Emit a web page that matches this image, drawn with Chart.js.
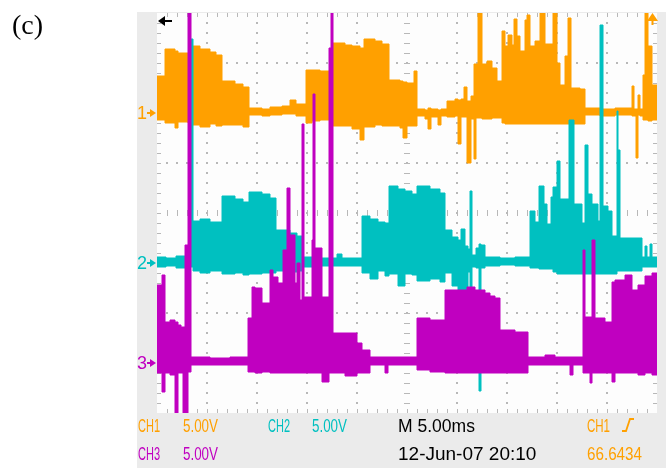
<!DOCTYPE html>
<html>
<head>
<meta charset="utf-8">
<title>Oscilloscope capture (c)</title>
<script src="https://cdn.jsdelivr.net/npm/chart.js@4/dist/chart.umd.min.js"></script>
<style>
  html, body { margin: 0; padding: 0; background: #ffffff; }
  #wrap { position: relative; width: 666px; height: 468px; }
  canvas { display: block; }
</style>
</head>
<body>
<div id="wrap"><canvas id="scope" width="666" height="468"></canvas></div>
<script>
// ---- Captured envelopes: time in ms, each level holds until the next time ----
// Channel 1 (volts relative to its ground marker)
const ch1Time = [0, 0.8, 1.8, 2.1, 3.1, 3.5, 4.3, 5.3, 5.9, 6.5,
  7.8, 8.6, 9.2, 10.5, 11.3, 12.5, 13.3, 13.9, 14.9, 15.5,
  16.3, 17.6, 18.8, 19.5, 20.3, 20.7, 21.8, 22.5, 23.2, 24.3,
  24.6, 25.0, 25.7, 26.0, 26.8, 27.1, 27.4, 28.1, 28.4, 29.0,
  29.8, 30.1, 30.4, 30.7, 31.0, 31.4, 31.7, 31.9, 32.1, 32.5,
  33.0, 33.5, 34.0, 34.5, 34.8, 35.1, 35.5, 35.7, 36.0, 36.3,
  36.8, 37.0, 37.3, 37.8, 38.3, 38.8, 39.6, 40.0, 40.3, 40.8,
  41.1, 41.4, 42.3, 42.8, 44.3, 45.8, 47.5, 47.7, 47.9, 48.1,
  48.3, 48.6, 48.8, 49.1, 49.5];
const ch1Max = [3.7, 6.4, 6.2, 6.0, 5.7, 6.7, 6.4, 6.1, 5.8, 3.2,
  2.9, 2.6, 0.5, 0.4, 0.6, 0.7, 1.3, 0.9, 4.3, 4.3,
  4.2, 7.0, 6.8, 6.7, 6.5, 7.4, 7.2, 6.9, 3.3, 3.2,
  3.1, 3.0, 4.2, 0.4, 0.3, 0.5, 0.4, 0.3, 0.4, 1.2,
  1.4, 1.3, 1.4, 2.6, 1.2, 1.7, 4.9, 4.9, 10.0, 4.9,
  5.2, 4.5, 3.2, 8.2, 6.7, 7.8, 6.8, 9.4, 7.7, 6.2,
  9.3, 9.8, 6.7, 7.2, 10.0, 6.9, 10.0, 5.0, 2.8, 5.7,
  9.5, 2.5, 2.4, 0.5, 0.4, 0.5, 2.7, 0.4, 0.4, 1.8,
  0.4, 3.8, 10.0, 6.7, 2.8];
const ch1Min = [-0.7, -1.0, -1.5, -0.9, -1.0, -1.2, -1.4, -1.1, -1.3, -1.2,
  -1.2, -1.4, -0.2, -0.3, -0.2, -0.1, -0.1, -0.3, -1.0, -0.8,
  -0.7, -1.3, -1.3, -1.6, -2.7, -1.4, -1.2, -1.3, -1.3, -1.5,
  -2.5, -1.3, -1.3, -0.3, -0.6, -1.6, -0.4, -1.2, -0.3, -0.4,
  -0.3, -3.1, -0.4, -0.4, -5.0, -0.6, -4.6, -0.5, -0.5, -0.6,
  -0.6, -0.5, -0.5, -1.0, -1.1, -1.1, -1.1, -1.1, -1.1, -1.1,
  -1.1, -1.1, -1.1, -1.1, -1.1, -1.1, -1.1, -1.1, -1.1, -1.1,
  -1.1, -1.1, -1.1, -0.2, -0.3, -0.2, -0.3, -0.3, -4.5, -0.2,
  -0.3, -0.7, -0.7, -0.8, -0.7];

// Channel 2
const ch2Time = [0, 0.9, 1.9, 2.9, 3.4, 3.6, 4.3, 5.3, 6.5, 7.8,
  8.6, 9.2, 10.5, 11.3, 11.9, 13.3, 14.0, 14.6, 15.8, 18.0,
  18.5, 20.5, 21.3, 22.1, 22.8, 23.2, 24.1, 24.8, 25.5, 26.0,
  27.3, 28.3, 28.8, 29.5, 30.1, 30.4, 30.8, 31.1, 31.3, 31.5,
  31.9, 32.2, 32.4, 32.8, 34.3, 35.8, 37.3, 37.8, 38.2, 38.7,
  39.0, 39.4, 39.6, 40.0, 40.3, 41.2, 41.7, 42.5, 42.8, 43.1,
  43.5, 44.1, 44.3, 44.6, 45.1, 45.5, 46.0, 46.1, 46.3, 48.5,
  48.8, 49.0, 49.3, 49.5];
const ch2Max = [0.6, 0.5, 0.7, 0.5, 22.4, 4.2, 4.4, 4.1, 6.7, 6.4,
  6.1, 7.1, 6.9, 6.5, 3.3, 3.0, 2.7, 0.6, 0.5, 0.9,
  0.5, 4.7, 4.4, 4.1, 4.0, 7.7, 7.4, 7.2, 6.9, 7.7,
  7.4, 7.0, 3.3, 2.6, 2.3, 3.4, 1.7, 1.4, 7.2, 0.8,
  1.5, 1.9, 1.8, 0.6, 0.5, 0.6, 5.2, 4.1, 7.7, 5.9,
  3.9, 6.6, 7.6, 10.2, 6.4, 14.3, 5.9, 4.0, 11.8, 6.9,
  5.9, 4.2, 23.8, 5.7, 5.2, 2.7, 15.2, 11.3, 2.5, 0.6,
  1.7, 0.6, 1.9, 0.6];
const ch2Min = [-0.4, -0.3, -0.5, -0.3, -0.4, -0.8, -1.0, -0.8, -1.1, -1.0,
  -1.2, -1.1, -1.0, -1.0, -0.8, -0.9, -0.8, -0.4, -0.3, -0.3,
  -0.3, -1.0, -1.6, -0.8, -1.3, -1.1, -2.3, -1.1, -1.2, -1.8,
  -1.6, -1.9, -1.0, -2.3, -3.5, -3.6, -3.6, -0.9, -3.4, -0.4,
  -0.5, -12.8, -0.5, -0.3, -0.2, -0.3, -0.5, -0.5, -0.6, -0.6,
  -0.6, -0.6, -0.9, -1.1, -1.1, -1.1, -1.1, -1.1, -1.1, -1.1,
  -1.1, -1.1, -1.1, -1.1, -1.1, -1.1, -0.8, -0.8, -0.8, -0.4,
  -0.4, -0.4, -0.4, -0.4];

// Channel 3
const ch3Time = [0, 0.5, 0.8, 1.3, 1.8, 2.1, 2.4, 2.6, 2.8, 3.1,
  3.4, 5.3, 7.3, 9.1, 9.5, 9.8, 10.5, 11.3, 11.6, 12.1,
  12.6, 13.0, 13.3, 13.8, 14.0, 14.3, 14.5, 14.7, 15.5, 15.6,
  15.8, 16.5, 17.2, 17.4, 17.6, 18.8, 20.0, 20.5, 21.3, 22.8,
  23.1, 26.0, 27.3, 28.8, 30.3, 31.0, 31.8, 32.8, 33.3, 33.8,
  34.3, 35.8, 37.1, 38.8, 39.8, 41.3, 41.6, 42.6, 42.8, 43.3,
  43.5, 43.8, 44.8, 45.5, 45.8, 46.8, 47.5, 48.1, 48.8, 49.5];
const ch3Max = [7.8, 8.8, 4.1, 4.3, 4.1, 3.8, 3.6, 3.6, 11.8, 35.0,
  0.6, 0.5, 0.6, 4.5, 7.6, 7.5, 6.0, 9.3, 8.6, 8.0,
  11.3, 17.5, 12.8, 8.0, 10.0, 6.3, 23.9, 6.6, 12.3, 26.9,
  11.5, 6.6, 31.5, 35.0, 3.0, 3.0, 2.0, 1.3, 0.6, 0.6,
  0.6, 4.5, 4.3, 7.3, 7.3, 7.6, 7.3, 7.0, 6.7, 6.5,
  3.3, 3.1, 0.6, 0.8, 0.6, 0.6, 0.6, 11.3, 4.6, 4.6,
  12.3, 4.5, 4.1, 8.1, 8.3, 8.8, 7.3, 7.8, 8.7, 9.0];
const ch3Min = [-1.0, -2.9, -1.0, -1.2, -5.2, -1.0, -1.0, -5.2, -5.2, -0.9,
  -0.2, -0.2, -0.2, -0.9, -0.9, -1.0, -0.9, -1.0, -1.0, -1.0,
  -1.0, -1.0, -1.0, -1.0, -1.0, -1.0, -1.0, -1.0, -1.0, -1.0,
  -1.0, -1.9, -1.0, -1.0, -1.0, -1.3, -1.0, -1.0, -0.2, -1.0,
  -0.2, -0.7, -0.9, -1.0, -1.0, -1.0, -1.0, -1.0, -1.0, -1.0,
  -1.0, -1.0, -0.2, -0.2, -0.2, -1.2, -0.2, -1.0, -1.0, -2.0,
  -1.0, -1.0, -1.0, -1.9, -1.0, -1.0, -1.0, -1.2, -1.0, -1.2];

// ---- Front-panel settings and readouts ----
const channelLabels = ['CH1', 'CH2', 'CH3'];
const voltsPerDiv = [5, 5, 5];
const groundDiv = [6, 3, 1];          // ground marker position, in divisions from the bottom
const scaleLabels = ['5.00V', '5.00V', '5.00V'];
const timePerDiv = 5;                 // ms
const timebaseLabel = 'M 5.00ms';
const dateLabel = '12-Jun-07 20:10';
const triggerSource = 'CH1';
const triggerReadout = '66.6434';
const panelLabel = '(c)';

const colors = ['#ffa000', '#00c0c0', '#c000c0'];
const divsX = 10, divsY = 8;

// ---- Build datasets: an upper and a lower stepped trace per channel, filled between ----
const series = [
  [ch1Time, ch1Max, ch1Min],
  [ch2Time, ch2Max, ch2Min],
  [ch3Time, ch3Max, ch3Min]
];
const endTime = divsX * timePerDiv;

function tracePoints(times, values, ch) {
  const pts = times.map((t, i) => ({ x: t, y: groundDiv[ch] + values[i] / voltsPerDiv[ch] }));
  pts.push({ x: endTime, y: pts[pts.length - 1].y });
  return pts;
}

const drawOrder = [2, 1, 0];  // channel 3 on top, channel 1 underneath
const datasets = [];
series.forEach(([times, hi, lo], ch) => {
  const common = {
    borderColor: colors[ch],
    backgroundColor: colors[ch],
    borderWidth: 1,
    pointRadius: 0,
    stepped: 'before',
    tension: 0,
    order: drawOrder[ch]
  };
  datasets.push(Object.assign({ label: channelLabels[ch] + ' max', data: tracePoints(times, hi, ch), fill: '+1' }, common));
  datasets.push(Object.assign({ label: channelLabels[ch] + ' min', data: tracePoints(times, lo, ch), fill: false }, common));
});

// ---- Screen furniture: bezel, graticule, markers and readouts ----
const screenPlugin = {
  id: 'scopeScreen',
  beforeDraw(chart) {
    const { ctx, chartArea: a, width, height } = chart;
    ctx.save();
    ctx.fillStyle = '#ffffff';
    ctx.fillRect(0, 0, width, height);
    ctx.fillStyle = '#ebebeb';
    ctx.fillRect(137, 12, width - 137, height - 12);
    ctx.fillStyle = '#fdfdfd';
    ctx.fillRect(a.left, a.top, a.right - a.left, a.bottom - a.top);
    ctx.fillStyle = '#000000';
    ctx.font = '28px "Liberation Serif", serif';
    ctx.textBaseline = 'alphabetic';
    ctx.fillText(panelLabel, 12, 34);
    ctx.restore();
  },
  beforeDatasetsDraw(chart) {
    const { ctx, chartArea: a, scales: { x, y } } = chart;
    ctx.save();
    ctx.fillStyle = '#b8b8b8';
    const minorT = [];
    for (let k = 1; k < divsX * 5; k++) minorT.push(k * timePerDiv / 5);
    const minorV = [];
    for (let k = 1; k < divsY * 5; k++) minorV.push(k / 5);
    const dot = (px, py) => ctx.fillRect(Math.round(px) - 1, Math.round(py) - 1, 2, 2);

    for (let d = 1; d < divsX; d++) {
      const px = Math.round(x.getPixelForValue(d * timePerDiv));
      minorV.forEach(v => {
        const py = Math.round(y.getPixelForValue(v));
        if (d === divsX / 2) ctx.fillRect(px - 3, py, 6, 1);
        else dot(px, py);
      });
    }
    for (let d = 1; d < divsY; d++) {
      const py = Math.round(y.getPixelForValue(d));
      minorT.forEach(t => {
        const px = Math.round(x.getPixelForValue(t));
        if (d === divsY / 2) ctx.fillRect(px, py - 3, 1, 6);
        else dot(px, py);
      });
    }
    // edge ticks
    minorT.forEach(t => {
      const px = Math.round(x.getPixelForValue(t));
      ctx.fillRect(px, a.top, 1, 4);
      ctx.fillRect(px, a.bottom - 4, 1, 4);
    });
    minorV.forEach(v => {
      const py = Math.round(y.getPixelForValue(v));
      ctx.fillRect(a.left, py, 4, 1);
      ctx.fillRect(a.right - 4, py, 4, 1);
    });
    ctx.restore();
  },
  afterDatasetsDraw(chart) {
    const { ctx, chartArea: a, scales: { y } } = chart;
    ctx.save();
    // ground markers
    groundDiv.forEach((g, ch) => {
      const py = Math.round(y.getPixelForValue(g));
      ctx.fillStyle = colors[ch];
      ctx.font = '18px "Liberation Sans", sans-serif';
      ctx.textBaseline = 'middle';
      ctx.fillText(String(ch + 1), 137, py + 1);
      ctx.fillRect(147, py - 1, 4, 2);
      ctx.beginPath();
      ctx.moveTo(150, py - 4);
      ctx.lineTo(156, py);
      ctx.lineTo(150, py + 4);
      ctx.closePath();
      ctx.fill();
    });
    // trigger position marker (off screen to the left)
    ctx.fillStyle = '#000000';
    ctx.beginPath();
    ctx.moveTo(a.left + 1, 21);
    ctx.lineTo(a.left + 8, 16);
    ctx.lineTo(a.left + 8, 26);
    ctx.closePath();
    ctx.fill();
    ctx.fillRect(a.left + 7, 20, 8, 2);
    // trigger level marker (above screen)
    ctx.fillStyle = colors[0];
    ctx.beginPath();
    ctx.moveTo(647, 21);
    ctx.lineTo(652.5, 13);
    ctx.lineTo(658, 21);
    ctx.closePath();
    ctx.fill();
    ctx.fillRect(651.5, 20, 2, 5);
    ctx.restore();
  },
  afterDraw(chart) {
    const { ctx } = chart;
    ctx.save();
    ctx.font = '19px "Liberation Sans", sans-serif';
    ctx.textBaseline = 'alphabetic';
    const put = (txt, color, px, py, w) => {
      ctx.fillStyle = color;
      if (w) ctx.fillText(txt, px, py, w); else ctx.fillText(txt, px, py);
    };
    put(channelLabels[0], colors[0], 138, 432, 22);
    put(scaleLabels[0], colors[0], 183, 432, 35);
    put(channelLabels[1], colors[1], 268, 432, 22);
    put(scaleLabels[1], colors[1], 312, 432, 35);
    put(timebaseLabel, '#000000', 398, 432, 77);
    put(triggerSource, colors[0], 587, 432, 23);
    put(channelLabels[2], colors[2], 138, 460, 22);
    put(scaleLabels[2], colors[2], 183, 460, 35);
    put(dateLabel, '#000000', 398, 460, 140);
    put(triggerReadout, colors[0], 587, 460, 55);
    // rising-edge trigger symbol
    ctx.strokeStyle = colors[0];
    ctx.lineWidth = 1.8;
    ctx.beginPath();
    ctx.moveTo(622, 431);
    ctx.lineTo(626, 431);
    ctx.lineTo(630, 419);
    ctx.lineTo(634, 419);
    ctx.stroke();
    ctx.restore();
  }
};

new Chart(document.getElementById('scope'), {
  type: 'line',
  data: { datasets },
  options: {
    responsive: false,
    animation: false,
    devicePixelRatio: 1,
    layout: { padding: { left: 157, top: 13, right: 9, bottom: 55 } },
    scales: {
      x: { type: 'linear', min: 0, max: endTime, display: false },
      y: { type: 'linear', min: 0, max: divsY, display: false }
    },
    plugins: {
      legend: { display: false },
      tooltip: { enabled: false }
    }
  },
  plugins: [screenPlugin]
});
</script>
</body>
</html>
